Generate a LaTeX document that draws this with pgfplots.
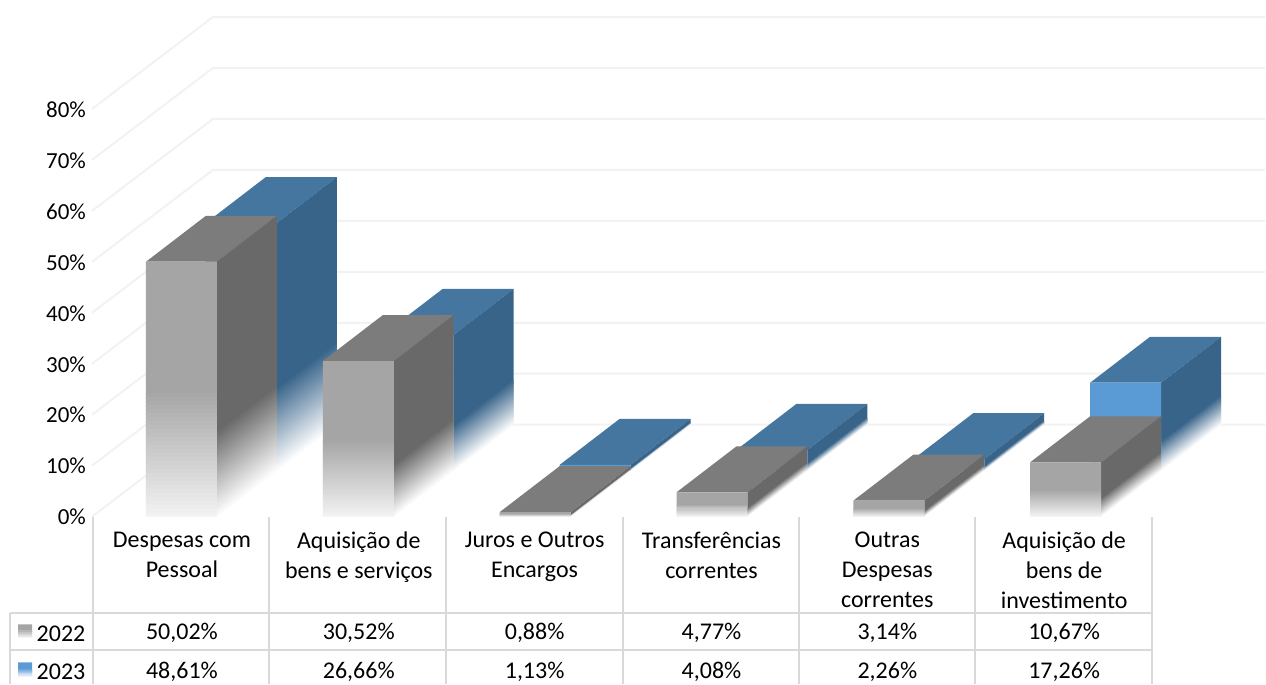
\documentclass[border=0pt]{standalone}
\usepackage{pgfplots}
\pgfplotsset{compat=1.18}
\usepackage{fontspec}
\setmainfont{Carlito}
\definecolor{gridc}{HTML}{F2F2F2}
\definecolor{tabc}{HTML}{D9D9D9}
\definecolor{gfront}{HTML}{A5A5A5}
\definecolor{gtop}{HTML}{7C7C7C}
\definecolor{gside}{HTML}{696969}
\definecolor{bfront}{HTML}{5B9BD5}
\definecolor{btop}{HTML}{44769F}
\definecolor{bside}{HTML}{38648A}
\definecolor{gend}{HTML}{F4F4F4}
\definecolor{bend}{HTML}{EAF2FA}
\newcount\stripk
\def\Nstrips{32}
% gradient quadrilateral: top edge (x1,y1)-(x2,y2), bottom edge (x3,y3)-(x4,y4) below them
% #9 = fraction of the height kept solid; colours in \gradfrom, \gradto
\newcommand\gradquad[9]{%
  \stripk=0
  \loop
    \pgfmathsetmacro\fa{#9+(1-#9)*\the\stripk/\Nstrips}%
    \pgfmathsetmacro\fb{min(1,#9+(1-#9)*(\the\stripk+1.6)/\Nstrips)}%
    \ifnum\stripk=0 \def\fa{0}\fi
    \pgfmathsetmacro\pct{100-100*\the\stripk/\Nstrips}%
    \pgfmathsetmacro\xa{#1+(#7-#1)*\fa}\pgfmathsetmacro\ya{#2+(#8-#2)*\fa}%
    \pgfmathsetmacro\xb{#3+(#5-#3)*\fa}\pgfmathsetmacro\yb{#4+(#6-#4)*\fa}%
    \pgfmathsetmacro\xc{#3+(#5-#3)*\fb}\pgfmathsetmacro\yc{#4+(#6-#4)*\fb}%
    \pgfmathsetmacro\xd{#1+(#7-#1)*\fb}\pgfmathsetmacro\yd{#2+(#8-#2)*\fb}%
    \edef\temp{\noexpand\addplot[forget plot,draw=none,fill=\gradfrom!\pct!\gradto]
      coordinates {(\xa,\ya) (\xb,\yb) (\xc,\yc) (\xd,\yd) (\xa,\ya)};}%
    \temp
    \advance\stripk by 1
  \ifnum\stripk<\Nstrips \repeat
}
% #1 front-left x (px), #2 value (%), #3 base level of this row (%),
% #4 top colour, #5 side, #6 front, #7 end colour
\newcommand\cuboid[7]{%
  \pgfmathsetmacro\xl{#1}\pgfmathsetmacro\xr{#1+71}%
  \pgfmathsetmacro\xbl{#1+60}\pgfmathsetmacro\xbr{#1+131}%
  \pgfmathsetmacro\vf{#2+#3}%
  \pgfmathsetmacro\vb{#2+#3+9.02}%
  \pgfmathsetmacro\bb{#3+9.02}%
  \edef\temp{\noexpand\addplot[forget plot,draw=none,fill=#4]
    coordinates {(\xl,\vf) (\xr,\vf) (\xbr,\vb) (\xbl,\vb) (\xl,\vf)};}\temp
  \edef\gradfrom{#5}\def\gradto{white}%
  \edef\tmpa{{\xr}{\vf}{\xbr}{\vb}{\xbr}{\bb}{\xr}{#3}{0.66}}%
  \expandafter\gradquad\tmpa
  \edef\gradfrom{#6}\edef\gradto{#7}%
  \edef\tmpa{{\xl}{\vf}{\xr}{\vf}{\xr}{#3}{\xl}{#3}{0.5}}%
  \expandafter\gradquad\tmpa
}
\newcommand\gridl[1]{%
  \pgfmathsetmacro\vb{#1+18.04}%
  \edef\temp{\noexpand\addplot[forget plot,draw=gridc,line width=2pt]
    coordinates {(92,#1) (213,\vb) (1266,\vb)};}\temp
}
\begin{document}
\begin{tikzpicture}
\begin{axis}[
  scale only axis, width=1266pt, height=684pt,
  xmin=0, xmax=1266, ymin=-32.75, ymax=101.37,
  axis line style={draw=none}, major tick length=0pt,
  clip=false, no markers,
  ytick={0,10,...,80},
  yticklabel={\pgfmathparse{int(\tick)}\pgfmathresult\%},
  yticklabel style={anchor=east, xshift=86pt, yshift=-0.5pt, font=\fontsize{23}{27}\selectfont, inner sep=0pt},
  xtick={182,359,535,712,888,1065},
  xticklabels={{Despesas com\\Pessoal},{Aquisição de\\bens e serviços},{Juros e Outros\\Encargos},{Transferências\\correntes},{Outras\\Despesas\\correntes},{Aquisição de\\bens de\\investimento}},
  xticklabel style={align=center, anchor=north, yshift=151.5pt, inner sep=0pt,
    font=\fontsize{24}{30}\selectfont},
]
% walls
\gridl{0}\gridl{10}\gridl{20}\gridl{30}\gridl{40}\gridl{50}\gridl{60}\gridl{70}\gridl{80}
% series 2023 (back row)
\cuboid{206}{48.61}{9.02}{btop}{bside}{bfront}{bend}
\cuboid{383}{26.66}{9.02}{btop}{bside}{bfront}{bend}
\cuboid{560}{1.13}{9.02}{btop}{bside}{bfront}{bend}
\cuboid{737}{4.08}{9.02}{btop}{bside}{bfront}{bend}
\cuboid{914}{2.26}{9.02}{btop}{bside}{bfront}{bend}
\cuboid{1091}{17.26}{9.02}{btop}{bside}{bfront}{bend}
% series 2022 (front row)
\cuboid{146}{50.02}{0}{gtop}{gside}{gfront}{gend}
\cuboid{323}{30.52}{0}{gtop}{gside}{gfront}{gend}
\cuboid{500}{0.88}{0}{gtop}{gside}{gfront}{gend}
\cuboid{677}{4.77}{0}{gtop}{gside}{gfront}{gend}
\cuboid{854}{3.14}{0}{gtop}{gside}{gfront}{gend}
\cuboid{1031}{10.67}{0}{gtop}{gside}{gfront}{gend}
% table
\addplot[forget plot,draw=tabc,line width=2pt] coordinates {(10,-18.82) (1153,-18.82)};
\addplot[forget plot,draw=tabc,line width=2pt] coordinates {(10,-26.27) (1153,-26.27)};
\addplot[forget plot,draw=tabc,line width=2pt] coordinates {(10,-18.82) (10,-32.75)};
\addplot[forget plot,draw=tabc,line width=2pt] coordinates {(93,0) (93,-32.75)};
\addplot[forget plot,draw=tabc,line width=2pt] coordinates {(269,0) (269,-32.75)};
\addplot[forget plot,draw=tabc,line width=2pt] coordinates {(446,0) (446,-32.75)};
\addplot[forget plot,draw=tabc,line width=2pt] coordinates {(623,0) (623,-32.75)};
\addplot[forget plot,draw=tabc,line width=2pt] coordinates {(800,0) (800,-32.75)};
\addplot[forget plot,draw=tabc,line width=2pt] coordinates {(976,0) (976,-32.75)};
\addplot[forget plot,draw=tabc,line width=2pt] coordinates {(1153,0) (1153,-32.75)};
% legend keys
\def\gradfrom{gfront}\def\gradto{gend}
\gradquad{18}{-21.17}{32}{-21.17}{32}{-23.72}{18}{-23.72}{0.45}
\def\gradfrom{bfront}\def\gradto{bend}
\gradquad{18}{-28.62}{32}{-28.62}{32}{-31.37}{18}{-31.37}{0.45}
% table text
\tikzset{cell/.style={font=\fontsize{24}{28}\selectfont, inner sep=0pt, anchor=center}}
\node[cell] at (axis cs:61,-22.9) {2022};
\node[cell] at (axis cs:61,-30.55) {2023};
\node[cell] at (axis cs:182,-22.9) {50,02\%};
\node[cell] at (axis cs:359,-22.9) {30,52\%};
\node[cell] at (axis cs:535,-22.9) {0,88\%};
\node[cell] at (axis cs:712,-22.9) {4,77\%};
\node[cell] at (axis cs:888,-22.9) {3,14\%};
\node[cell] at (axis cs:1065,-22.9) {10,67\%};
\node[cell] at (axis cs:182,-30.55) {48,61\%};
\node[cell] at (axis cs:359,-30.55) {26,66\%};
\node[cell] at (axis cs:535,-30.55) {1,13\%};
\node[cell] at (axis cs:712,-30.55) {4,08\%};
\node[cell] at (axis cs:888,-30.55) {2,26\%};
\node[cell] at (axis cs:1065,-30.55) {17,26\%};
\end{axis}
\end{tikzpicture}
\end{document}
